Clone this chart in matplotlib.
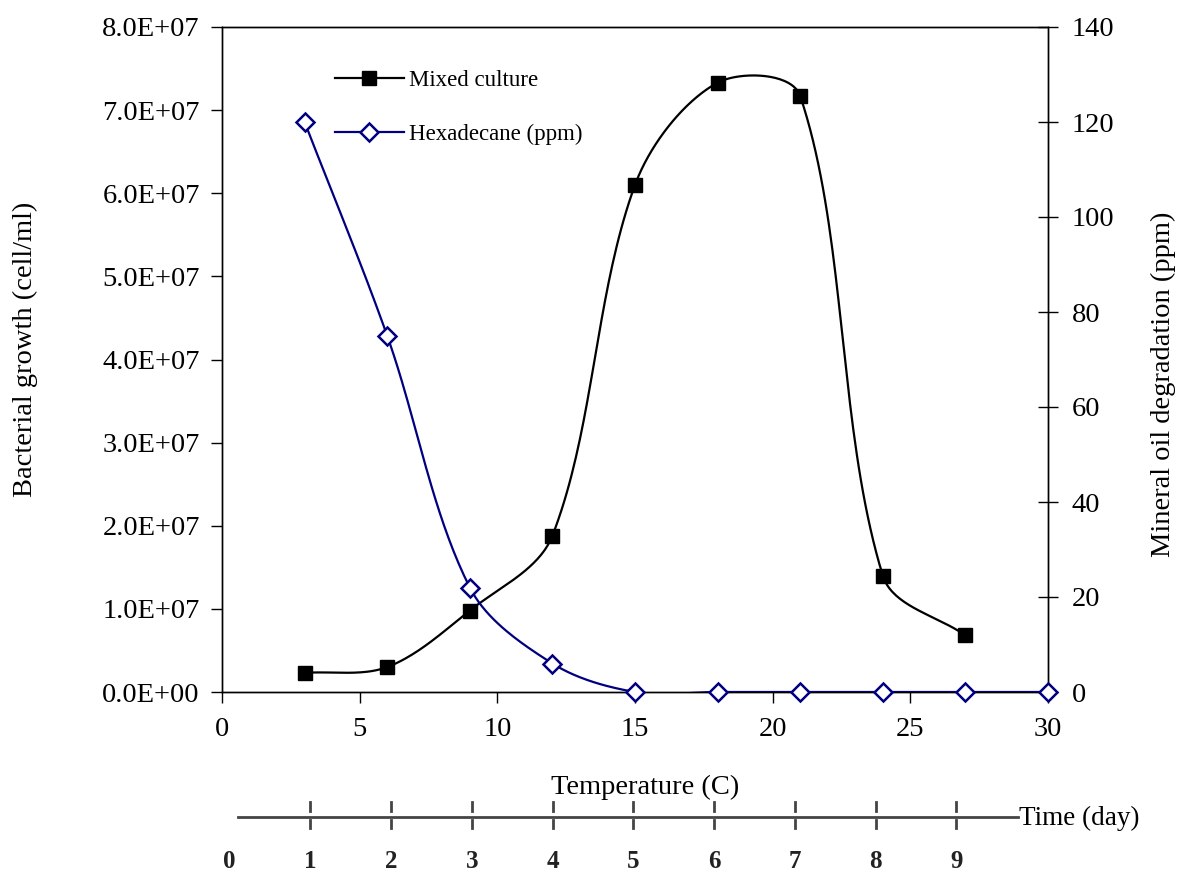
import numpy as np
import matplotlib
matplotlib.use("Agg")
import matplotlib.pyplot as plt

plt.rcParams['font.family'] = ['Liberation Serif', 'DejaVu Serif']

# ---- data ----
temp = [3, 6, 9, 12, 15, 18, 21, 24, 27]
mixed_culture = [2.3e6, 3.0e6, 9.8e6, 1.88e7, 6.1e7, 7.33e7, 7.17e7, 1.4e7, 6.8e6]
temp_hex = [3, 6, 9, 12, 15, 18, 21, 24, 27, 30]
hexadecane = [120, 75, 22, 6, 0, 0, 0, 0, 0, 0]
days = [0, 1, 2, 3, 4, 5, 6, 7, 8, 9]
left_ticks = [0, 1e7, 2e7, 3e7, 4e7, 5e7, 6e7, 7e7, 8e7]
left_labels = ["0.0E+00", "1.0E+07", "2.0E+07", "3.0E+07", "4.0E+07",
               "5.0E+07", "6.0E+07", "7.0E+07", "8.0E+07"]
right_ticks = [0, 20, 40, 60, 80, 100, 120, 140]
x_ticks = [0, 5, 10, 15, 20, 25, 30]


def excel_smooth(axis, x, y, n=40):
    """Bezier smoothing in screen space (like a spreadsheet 'smoothed line')."""
    P = axis.transData.transform(np.column_stack([x, y]).astype(float))
    N = len(P)
    t = np.linspace(0, 1, n)[:, None]
    out = []
    for i in range(N - 1):
        p0 = P[i - 1] if i > 0 else P[i]
        p1, p2 = P[i], P[i + 1]
        p3 = P[i + 2] if i + 2 < N else P[i + 1]
        d01 = np.linalg.norm(p1 - p0)
        d12 = np.linalg.norm(p2 - p1)
        d23 = np.linalg.norm(p3 - p2)
        c1 = p1 + (p2 - p0) * (d12 / (d01 + d12)) / 3.0
        c2 = p2 - (p3 - p1) * (d12 / (d12 + d23)) / 3.0
        seg = ((1 - t) ** 3) * p1 + 3 * ((1 - t) ** 2) * t * c1 \
            + 3 * (1 - t) * t ** 2 * c2 + t ** 3 * p2
        out.append(seg if i == 0 else seg[1:])
    D = np.vstack(out)
    back = axis.transData.inverted().transform(D)
    return back[:, 0], back[:, 1]


W, H = 1182, 874
fig = plt.figure(figsize=(W / 100, H / 100), dpi=100)
L, R, T, B = 222, 1048, 27, 692
ax = fig.add_axes([L / W, 1 - B / H, (R - L) / W, (B - T) / H])
ax2 = ax.twinx()

navy = "#000080"
fs = 20.5

ax.set_xlim(0, 30)
ax.set_ylim(0, 8e7)
ax2.set_ylim(0, 140)

# mixed culture
sx, sy = excel_smooth(ax, temp, mixed_culture)
ax.plot(sx, sy, color="black", lw=1.6, zorder=3)
ax.plot(temp, mixed_culture, ls="none", marker="s", ms=10, color="black", zorder=4)
# hexadecane
hx, hy = excel_smooth(ax2, temp_hex, hexadecane)
ax2.plot(hx, hy, color=navy, lw=1.6, zorder=3)
ax2.plot(temp_hex, hexadecane, ls="none", marker="D", ms=9, mfc="white",
         mec=navy, mew=1.8, zorder=4, clip_on=False)

ax.set_xticks(x_ticks)
ax.set_xticklabels([str(v) for v in x_ticks], fontsize=fs)
ax.set_yticks(left_ticks)
ax.set_yticklabels(left_labels, fontsize=fs)
ax2.set_yticks(right_ticks)
ax2.set_yticklabels([str(v) for v in right_ticks], fontsize=fs)
ax.tick_params(axis="y", direction="out", length=8, width=1, pad=8)
ax.tick_params(axis="x", direction="out", length=8, width=1, pad=10)
ax2.tick_params(axis="y", direction="inout", length=14, width=1, pad=10)
for a in (ax, ax2):
    for s in a.spines.values():
        s.set_linewidth(1.0)

# axis titles
fig.text(25 / W, 1 - 349 / H, "Bacterial growth (cell/ml)", rotation=90,
         ha="center", va="center", fontsize=fs)
fig.text(1163 / W, 1 - 384 / H, "Mineral oil degradation (ppm)", rotation=90,
         ha="center", va="center", fontsize=fs)
fig.text(645 / W, 1 - 787 / H, "Temperature (C)", ha="center", va="center",
         fontsize=fs)

# legend
h1 = plt.Line2D([], [], color="black", lw=1.6, marker="s", ms=10)
h2 = plt.Line2D([], [], color=navy, lw=1.6, marker="D", ms=9, mfc="white",
                mec=navy, mew=1.8)
ax.legend([h1, h2], ["Mixed culture", "Hexadecane (ppm)"],
          loc="upper left",
          bbox_to_anchor=((335 - L) / (R - L), 1 - (70 - T) / (B - T)),
          frameon=False, fontsize=16.5, handlelength=3.0, handletextpad=0.22,
          labelspacing=1.45, borderpad=0, borderaxespad=0)

# time (day) axis
ax3 = fig.add_axes([229.5 / W, 0, (1037 - 229.5) / W, 1])
ax3.set_xlim(0, 10)
ax3.set_ylim(H, 0)
ax3.axis("off")
ax3.plot([0.11, 9.77], [817, 817], color="#444444", lw=2)
for d in days[1:]:
    ax3.plot([d, d], [802, 811], color="#444444", lw=2)
    ax3.plot([d, d], [820, 828], color="#444444", lw=2)
for d in days:
    ax3.text(d, 861, str(d), ha="center", va="center", fontsize=18,
             fontweight="bold", color="#222222")
ax3.text(9.78, 818, "Time (day)", ha="left", va="center", fontsize=19.5)

fig.savefig("out.png", dpi=100)
